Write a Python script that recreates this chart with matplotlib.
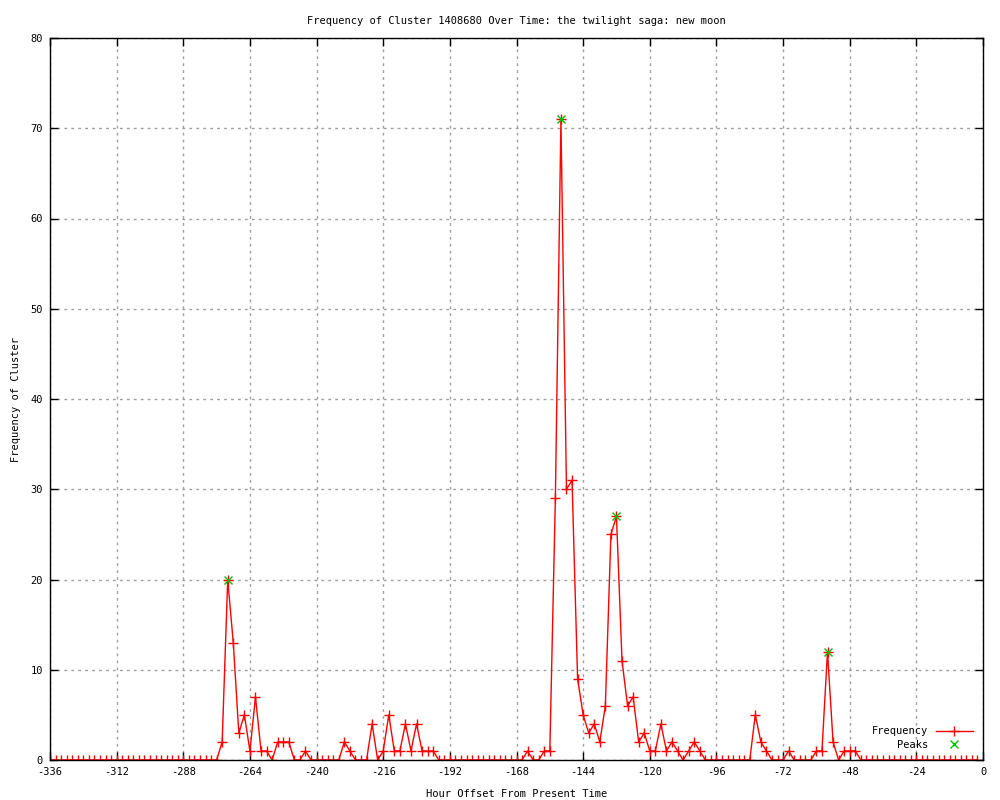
import numpy as np
import matplotlib
matplotlib.use("Agg")
import matplotlib.pyplot as plt

# hours before present, one bin every 2 hours
hours = np.arange(-336, 0, 2)

# frequency per bin, each row covers 48 hours (24 bins)
freq = [
    0, 0, 0, 0, 0, 0, 0, 0, 0, 0, 0, 0, 0, 0, 0, 0, 0, 0, 0, 0, 0, 0, 0, 0,          # -336 .. -290
    0, 0, 0, 0, 0, 0, 0, 2, 20, 13, 3, 5, 1, 7, 1, 1, 0, 2, 2, 2, 0, 0, 1, 0,        # -288 .. -242
    0, 0, 0, 0, 0, 2, 1, 0, 0, 0, 4, 0, 1, 5, 1, 1, 4, 1, 4, 1, 1, 1, 0, 0,          # -240 .. -194
    0, 0, 0, 0, 0, 0, 0, 0, 0, 0, 0, 0, 0, 0, 1, 0, 0, 1, 1, 29, 71, 30, 31, 9,      # -192 .. -146
    5, 3, 4, 2, 6, 25, 27, 11, 6, 7, 2, 3, 1, 1, 4, 1, 2, 1, 0, 1, 2, 1, 0, 0,       # -144 .. -98
    0, 0, 0, 0, 0, 0, 0, 5, 2, 1, 0, 0, 0, 1, 0, 0, 0, 0, 1, 1, 12, 2, 0, 1,         # -96 .. -50
    1, 1, 0, 0, 0, 0, 0, 0, 0, 0, 0, 0, 0, 0, 0, 0, 0, 0, 0, 0, 0, 0, 0, 0,          # -48 .. -2
]

peak_hours = [-272, -152, -132, -56]
peak_values = [20, 71, 27, 12]

x_ticks = list(range(-336, 1, 24))
y_ticks = list(range(0, 81, 10))

plt.rcParams['font.family'] = ['DejaVu Sans Mono']
plt.rcParams['font.size'] = 7.5
plt.rcParams['axes.unicode_minus'] = False

fig = plt.figure(figsize=(10, 8), dpi=100)
ax = fig.add_axes([0.05, 0.05, 0.933, 0.9025])

ax.plot(hours, freq, color='red', linewidth=1, marker='+', markersize=7,
        markeredgewidth=1, label='Frequency')
# monospace font, so pad the label to line it up on the right
ax.plot(peak_hours, peak_values, linestyle='none', color='#00c000', marker='x',
        markersize=5.5, markeredgewidth=1, label='    Peaks')

ax.set_xlim(-336, 0)
ax.set_ylim(0, 80)
ax.set_xticks(x_ticks)
ax.set_yticks(y_ticks)
ax.tick_params(direction='in', length=6, width=1, top=True, right=True,
               labelsize=7.5, pad=5)
ax.grid(True, color='#a0a0a0', linestyle=(0, (2, 3)), linewidth=1)
for s in ax.spines.values():
    s.set_linewidth(1)

ax.set_title("Frequency of Cluster 1408680 Over Time: the twilight saga: new moon",
             fontsize=7.5, pad=10)
ax.set_xlabel("Hour Offset From Present Time", fontsize=7.5, labelpad=9)
ax.set_ylabel("Frequency of Cluster", fontsize=7.5, labelpad=7)

ax.legend(loc='lower right', frameon=False, markerfirst=False, fontsize=7.5,
          handlelength=3.5, borderaxespad=0.6, labelspacing=0.3)

fig.savefig("out.png", dpi=100)
